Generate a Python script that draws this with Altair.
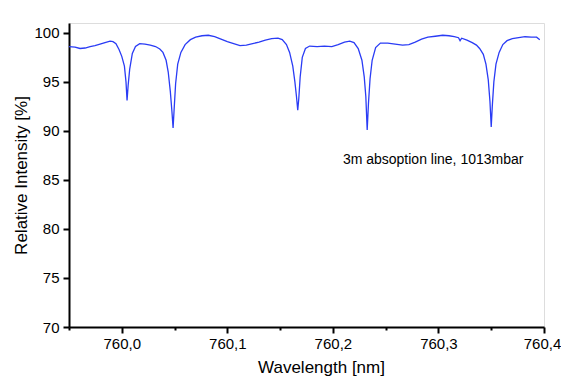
import altair as alt
import pandas as pd

wavelength = [
    759.950, 759.9557, 759.9604, 759.9652, 759.9700, 759.9746, 759.9794, 759.9841,
    759.9889, 759.9917, 759.9945, 759.9974,
    760.0000, 760.0025, 760.0040, 760.0050, 760.0060, 760.0075, 760.0100, 760.0130,
    760.0170, 760.0220, 760.0270, 760.0320, 760.0360, 760.0390, 760.0420, 760.0440,
    760.0460, 760.0475, 760.0486, 760.0495, 760.0510, 760.0530, 760.0560, 760.0600,
    760.0650, 760.0700, 760.0760, 760.0820, 760.0880, 760.0940, 760.1000, 760.1060,
    760.1120, 760.1180, 760.1240, 760.1300, 760.1360, 760.1420, 760.1480, 760.1520,
    760.1560, 760.1590, 760.1620, 760.1640, 760.1655, 760.1667, 760.1677, 760.1690,
    760.1710, 760.1740, 760.1780, 760.1850, 760.1920, 760.1990, 760.2050, 760.2110,
    760.2160, 760.2200, 760.2240, 760.2275, 760.2297, 760.2312, 760.2325, 760.2337,
    760.2352, 760.2372, 760.2405, 760.2450, 760.2520, 760.2590, 760.2660, 760.2720,
    760.2780, 760.2840, 760.2900, 760.2970, 760.3040, 760.3100, 760.3150, 760.3190,
    760.3205, 760.3220, 760.3270, 760.3320, 760.3360, 760.3390, 760.3425, 760.3450,
    760.3472, 760.3488, 760.3500, 760.3510, 760.3525, 760.3545, 760.3575, 760.3610,
    760.3650, 760.3700, 760.3760, 760.3820, 760.3880, 760.3930, 760.3960,
]
intensity = [
    98.6, 98.55, 98.4, 98.45, 98.6, 98.7, 98.85, 99.0,
    99.15, 99.1, 98.9, 98.3,
    97.6, 96.6, 95.0, 93.1, 94.6, 96.3, 97.9, 98.6,
    98.9, 98.85, 98.75, 98.6, 98.35, 98.0, 97.2, 96.0,
    94.0, 92.0, 90.3, 92.0, 94.8, 96.8, 98.0, 98.8,
    99.3, 99.55, 99.7, 99.75, 99.6, 99.35, 99.1, 98.9,
    98.7, 98.75, 98.9, 99.05, 99.25, 99.4, 99.45, 99.3,
    98.8, 98.0, 96.6, 95.0, 93.5, 92.1, 93.3, 95.5,
    97.5, 98.4, 98.65, 98.6, 98.65, 98.6, 98.8, 99.05,
    99.15, 99.0, 98.4, 97.2, 95.5, 93.5, 90.1, 92.8,
    95.3, 97.2, 98.5, 98.95, 98.95, 98.85, 98.75, 98.8,
    99.05, 99.35, 99.55, 99.65, 99.75, 99.7, 99.6, 99.5,
    99.2, 99.45, 99.25, 99.0, 98.75, 98.4, 97.8, 96.8,
    95.2, 93.0, 90.4, 92.5, 95.0, 96.8, 98.0, 98.8,
    99.2, 99.4, 99.5, 99.6, 99.55, 99.55, 99.3,
]

note_text = ["3m absoption line, 1013mbar"]
note_x = [760.295]
note_y = [87.0]

x_ticks = [759.95, 760.0, 760.05, 760.1, 760.15, 760.2, 760.25, 760.3, 760.35, 760.4]
y_ticks = [70, 72.5, 75, 77.5, 80, 82.5, 85, 87.5, 90, 92.5, 95, 97.5, 100]

df = pd.DataFrame({"wl": wavelength, "val": intensity})
notes = pd.DataFrame({"t": note_text, "x": note_x, "y": note_y})

FONT = "Liberation Sans"
x_minor = "abs(datum.value*10 - round(datum.value*10)) > 0.01"
y_minor = "datum.value % 5 != 0"

xscale = alt.Scale(domain=[759.95, 760.4], nice=False, zero=False)
yscale = alt.Scale(domain=[70, 101], nice=False, zero=False)

line = alt.Chart(df).mark_line(color="#2a3cf5", strokeWidth=1.3).encode(
    x=alt.X("wl:Q", scale=xscale, title="Wavelength [nm]",
            axis=alt.Axis(values=x_ticks, grid=False, domainColor="black", domainWidth=2,
                          tickColor="black", tickWidth=2,
                          tickSize={"condition": {"test": x_minor, "value": 3}, "value": 6},
                          labelExpr="abs(datum.value*10 - round(datum.value*10)) > 0.01 ? '' : replace(format(datum.value, '.1f'), '.', ',')",
                          labelFont=FONT, labelFontSize=15, labelColor="black", labelPadding=3,
                          labelFlush=False,
                          labelOffset={"condition": {"test": "datum.value > 760.39", "value": -2}, "value": 0},
                          titleFont=FONT, titleFontSize=17, titleFontWeight="normal",
                          titleColor="black", titlePadding=8, titleX=252)),
    y=alt.Y("val:Q", scale=yscale, title="Relative Intensity [%]",
            axis=alt.Axis(values=y_ticks, grid=False, domainColor="black", domainWidth=2,
                          tickColor="black", tickWidth=2,
                          tickSize={"condition": {"test": y_minor, "value": 3}, "value": 6},
                          labelExpr="datum.value % 5 != 0 ? '' : format(datum.value, 'd')",
                          labelFont=FONT, labelFontSize=15, labelColor="black", labelPadding=4,
                          labelFlush=False,
                          titleFont=FONT, titleFontSize=17, titleFontWeight="normal",
                          titleColor="black", titlePadding=3)),
)

text = alt.Chart(notes).mark_text(font=FONT, fontSize=14, color="black",
                                  align="center", baseline="middle").encode(
    x=alt.X("x:Q", scale=xscale),
    y=alt.Y("y:Q", scale=yscale),
    text="t:N",
)

chart = alt.layer(line, text).properties(
    width=475, height=304,
    autosize=alt.AutoSizeParams(type="none"),
    padding={"left": 61, "top": 15, "right": 17, "bottom": 52},
).configure_view(stroke="black", strokeWidth=1.5).configure(background="white")

chart.save("out.html", embed_options={"renderer": "svg", "actions": False})
